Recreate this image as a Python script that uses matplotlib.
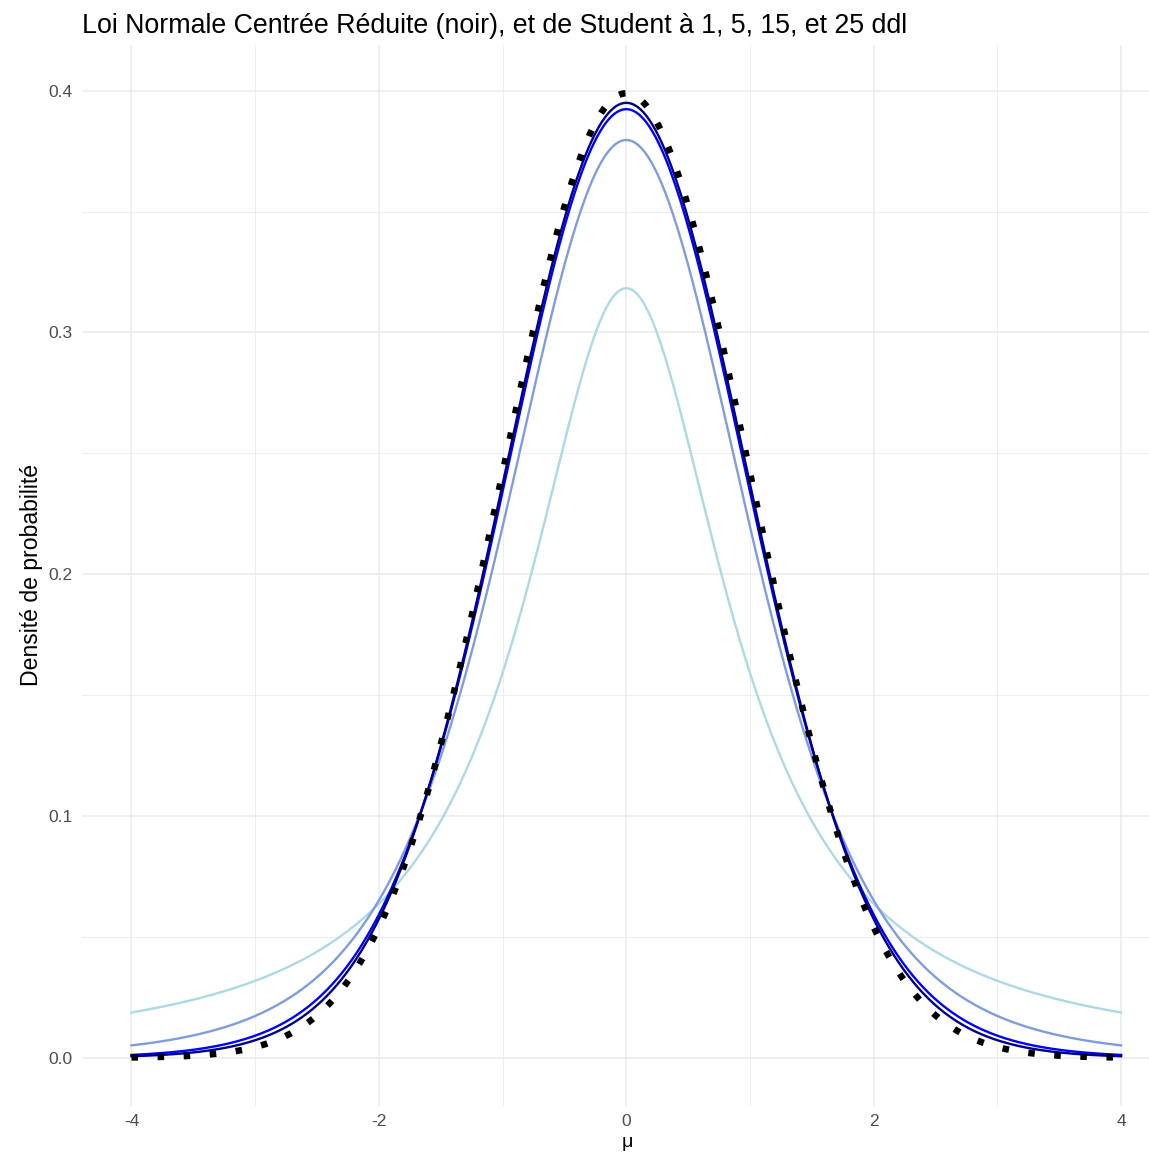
import math
import numpy as np
import matplotlib
matplotlib.use("Agg")
import matplotlib.pyplot as plt
from matplotlib.ticker import MultipleLocator

# ---- data ----
x_range = [-4, 4]
n_points = 401
student_df = [1, 5, 15, 25]
student_colors = ["#ADD8E6", "#7F9CDB", "#0000FF", "#00008B"]
x_ticks = [-4, -2, 0, 2, 4]
y_ticks = [0.0, 0.1, 0.2, 0.3, 0.4]
y_tick_labels = ["0.0", "0.1", "0.2", "0.3", "0.4"]
title = "Loi Normale Centrée Réduite (noir), et de Student à 1, 5, 15, et 25 ddl"
xlabel = "μ"
ylabel = "Densité de probabilité"

x = np.linspace(x_range[0], x_range[1], n_points)


def norm_pdf(v):
    return np.exp(-v ** 2 / 2) / math.sqrt(2 * math.pi)


def t_pdf(v, k):
    c = math.gamma((k + 1) / 2) / (math.sqrt(k * math.pi) * math.gamma(k / 2))
    return c * (1 + v ** 2 / k) ** (-(k + 1) / 2)


plt.rcParams['font.family'] = ['Liberation Sans', 'DejaVu Sans']

W, H = 1149, 1152
fig = plt.figure(figsize=(W / 100, H / 100), dpi=100)
px_per_unit = 123.7
left_px, top_px, bottom_px = 82, 45, 1106
ax_w_px = 8.8 * px_per_unit
ax = fig.add_axes([left_px / W, 1 - bottom_px / H, ax_w_px / W, (bottom_px - top_px) / H])

for k, col in zip(student_df, student_colors):
    ax.plot(x, t_pdf(x, k), color=col, lw=1.7, zorder=3)

y_norm = norm_pdf(x)
ax.plot(x, y_norm, color="black", lw=4.7, linestyle=(0, (1, 3)),
        dash_capstyle="butt", zorder=4)

ymax = y_norm.max()
ax.set_xlim(-4.4, 4.4)
ax.set_ylim(-0.05 * ymax, 1.05 * ymax)

ax.set_xticks(x_ticks)
ax.set_xticklabels([str(t) for t in x_ticks])
ax.set_yticks(y_ticks)
ax.set_yticklabels(y_tick_labels)
ax.xaxis.set_minor_locator(MultipleLocator(1))
ax.yaxis.set_minor_locator(MultipleLocator(0.05))

ax.grid(which="major", color="#EBEBEB", lw=1.1, zorder=0)
ax.grid(which="minor", color="#EBEBEB", lw=0.6, zorder=0)
ax.set_axisbelow(True)
for s in ax.spines.values():
    s.set_visible(False)
ax.tick_params(which="both", length=0)
ax.tick_params(axis="x", labelsize=12.5, labelcolor="#4D4D4D", pad=6)
ax.tick_params(axis="y", labelsize=12.5, labelcolor="#4D4D4D", pad=7)

fig.text(left_px / W, 1 - 26 / H, title, fontsize=19.3, color="black",
         ha="left", va="center")
fig.text(32 / W, 1 - 575 / H, ylabel, fontsize=16.6, rotation=90,
         ha="center", va="center", color="black")
fig.text(627.5 / W, 1 / H, xlabel, fontsize=14,
         ha="center", va="bottom", color="black")

fig.savefig("out.png", dpi=100)
